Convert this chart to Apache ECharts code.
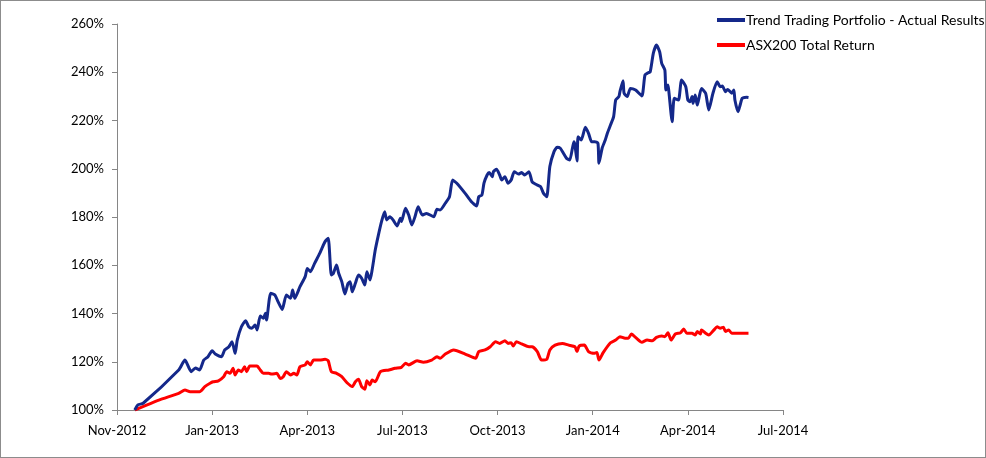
<!DOCTYPE html>
<html>
<head>
<meta charset="utf-8">
<script src="https://cdn.jsdelivr.net/npm/echarts@6/dist/echarts.min.js"></script>
<style>
html,body{margin:0;padding:0;background:#fff;}
#chart{width:986px;height:458px;box-sizing:border-box;border:1px solid #8c8c8c;}
</style>
</head>
<body>
<div id="chart"></div>
<script>
// x values: days from the axis origin (each tick = 91 days)
const xTickLabels = ['Nov-2012','Jan-2013','Apr-2013','Jul-2013','Oct-2013','Jan-2014','Apr-2014','Jul-2014'];
const yTickValues = [100,120,140,160,180,200,220,240,260];

const trendDays = [17,20,25,59,65,71,75,79,83,87,91,94,100,103,107,110,113,115,119,123,126,129,132,134,137,140,142,143,147,151,154,158,162,166,168,170,175,180,182,185,189,194,196,199,202,205,207,210,212,215,218,221,223,225,228,231,234,237,239,242,244,247,250,253,256,258,261,264,268,271,272,276,279,282,285,288,292,296,303,306,309,314,318,321,325,333,339,344,346,349,351,354,356,359,360,363,366,368,371,374,377,380,384,387,390,394,397,400,405,408,411,414,418,421,424,427,430,433,437,438,440,441,444,448,451,454,457,460,461,464,467,469,472,475,477,480,481,484,485,488,491,496,502,505,508,510,513,516,519,521,524,525,527,528,531,533,537,540,544,546,548,550,551,553,555,559,563,566,570,574,577,579,582,584,588,590,591,594,596,598,602,604];
const trendValues = [100.0,102.1,102.8,116.6,120.7,115.9,117.4,116.6,120.7,122.1,124.6,123.2,122.1,124.9,126.2,128.3,123.5,129.0,134.5,137.0,134.5,133.9,135.2,133.2,139.0,138.0,140.1,137.3,148.4,147.7,144.9,141.7,147.7,146.3,149.7,146.3,151.1,155.3,158.7,157.3,160.8,165.0,167.0,169.8,171.2,156.0,156.7,160.1,156.7,153.2,148.1,152.5,153.2,149.0,152.5,156.0,154.6,151.8,157.3,153.9,158.0,166.3,172.5,178.1,182.2,178.8,180.1,178.8,176.3,179.5,178.1,183.6,180.8,176.7,180.1,184.3,180.8,181.5,180.1,183.2,182.9,185.7,188.4,195.3,194.0,189.8,186.3,184.6,188.4,189.1,194.0,197.4,198.4,196.7,198.8,199.8,197.4,195.3,196.7,194.0,195.3,198.8,197.8,198.4,197.4,198.8,194.6,193.7,192.6,189.8,188.4,200.9,207.1,208.9,208.5,206.4,204.3,203.6,211.2,209.8,203.2,213.3,211.9,217.2,214.7,211.2,211.2,210.6,202.3,208.5,211.9,214.7,218.1,221.6,228.5,229.9,231.9,236.5,231.3,229.9,233.3,232.6,230.2,238.9,239.8,240.2,247.9,251.3,248.5,243.7,240.9,232.6,234.7,231.3,219.5,229.2,228.5,236.8,234.0,228.5,227.8,229.9,227.1,230.6,226.4,233.3,231.3,224.4,231.3,236.1,234.0,234.3,231.9,232.9,231.3,232.6,228.5,223.6,226.4,229.2,229.6,229.5];

const asxDays = [17,40,59,65,70,79,84,89,92,97,102,105,108,111,113,116,119,122,124,127,134,137,140,145,148,153,156,159,162,166,169,172,175,180,182,185,188,194,199,202,205,210,215,220,225,228,231,234,237,239,242,244,247,252,260,266,272,276,279,287,293,301,306,309,314,322,333,343,346,352,357,362,366,371,374,377,379,382,387,394,397,402,406,411,414,419,426,432,438,440,442,447,451,456,459,461,465,472,477,481,486,489,492,497,502,507,512,516,521,524,527,530,534,539,542,545,550,553,555,558,559,563,566,571,574,577,580,582,585,588,595,601,604];
const asxValues = [100.0,104.1,106.9,108.3,107.6,107.6,109.7,111.1,111.7,112.1,113.8,115.9,115.2,117.3,114.5,116.6,115.9,117.9,115.9,118.2,118.2,116.6,115.2,115.2,114.9,115.2,113.1,113.8,115.9,114.5,115.2,114.5,117.9,118.7,120.0,118.7,120.7,120.7,121.0,120.4,115.9,115.2,113.8,111.3,109.7,111.7,112.7,109.7,108.6,112.1,110.4,112.4,111.7,115.9,116.6,117.3,117.7,119.4,118.7,120.4,119.8,120.7,122.1,121.4,123.2,124.9,123.2,121.4,124.2,124.9,126.2,128.3,127.6,128.7,127.6,127.9,126.5,128.3,127.4,126.2,126.2,124.2,120.7,121.0,124.9,126.9,127.6,126.9,126.2,124.2,126.5,126.9,124.2,123.5,123.8,120.7,123.8,127.9,129.0,130.4,129.7,129.7,131.5,129.7,128.1,129.0,128.7,130.1,130.7,130.4,132.0,129.0,131.5,132.0,133.6,131.8,131.8,131.1,132.5,131.5,133.2,131.8,131.1,133.2,134.5,133.9,134.3,132.5,133.2,131.8,131.8,131.8,131.8];

const tickDays = 91;
const pair = (xs, ys) => xs.map((x, i) => [x, ys[i]]);

const chart = echarts.init(document.getElementById('chart'), null, {renderer: 'canvas'});
const font = 'Lato, "Liberation Sans", sans-serif';
chart.setOption({
  animation: false,
  backgroundColor: '#ffffff',
  grid: {left: 116, top: 23, width: 666, height: 386, containLabel: false},
  legend: {
    orient: 'vertical',
    left: 711,
    top: 7,
    itemWidth: 28,
    itemHeight: 4,
    itemGap: 11,
    icon: 'rect',
    textStyle: {fontFamily: font, fontSize: 14, color: '#000', padding: [0, 0, 0, -4]},
    data: ['Trend Trading Portfolio - Actual Results', 'ASX200 Total Return']
  },
  xAxis: {
    type: 'value',
    min: 0,
    max: tickDays * (xTickLabels.length - 1),
    interval: tickDays,
    splitLine: {show: false},
    axisLine: {show: true, lineStyle: {color: '#868686', width: 1}},
    axisTick: {show: true, length: 5, lineStyle: {color: '#868686'}},
    axisLabel: {
      fontFamily: font, fontSize: 13, color: '#000', margin: 14,
      formatter: v => xTickLabels[Math.round(v / tickDays)] || ''
    }
  },
  yAxis: {
    type: 'value',
    min: yTickValues[0],
    max: yTickValues[yTickValues.length - 1],
    interval: 20,
    splitLine: {show: false},
    axisLine: {show: true, lineStyle: {color: '#868686', width: 1}},
    axisTick: {show: true, length: 5, lineStyle: {color: '#868686'}},
    axisLabel: {fontFamily: font, fontSize: 13, color: '#000', margin: 13, formatter: v => v + '%'}
  },
  series: [
    {
      name: 'Trend Trading Portfolio - Actual Results',
      type: 'line',
      data: pair(trendDays, trendValues),
      showSymbol: false,
      symbol: 'none',
      smooth: 0.2,
      lineStyle: {color: '#14288a', width: 3},
      itemStyle: {color: '#14288a'},
      z: 3
    },
    {
      name: 'ASX200 Total Return',
      type: 'line',
      data: pair(asxDays, asxValues),
      showSymbol: false,
      symbol: 'none',
      smooth: 0.2,
      lineStyle: {color: '#ff0000', width: 3},
      itemStyle: {color: '#ff0000'},
      z: 2
    }
  ]
});
</script>
</body>
</html>
